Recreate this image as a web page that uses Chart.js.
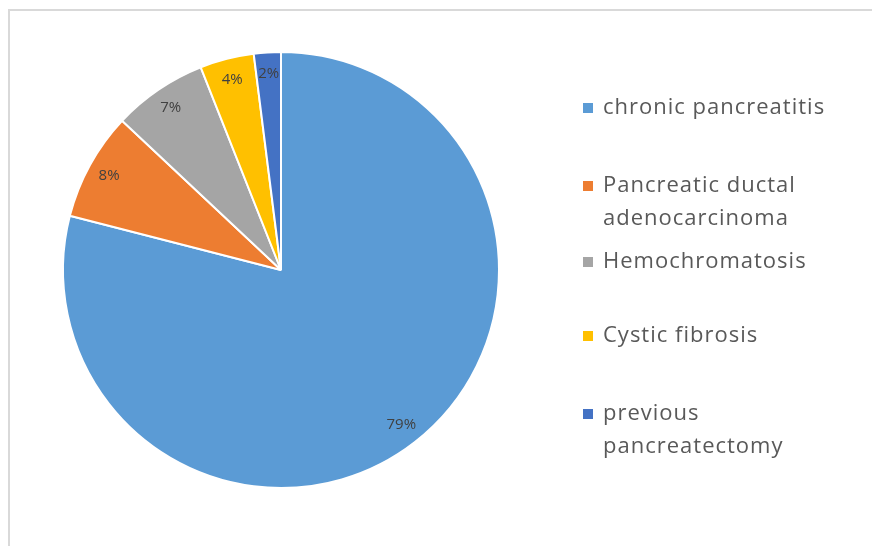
<!DOCTYPE html>
<html>
<head>
<meta charset="utf-8">
<script src="https://cdn.jsdelivr.net/npm/chart.js@4.4.1/dist/chart.umd.min.js"></script>
<style>
  html, body { margin: 0; padding: 0; background: #fff; }
  #wrap { position: relative; width: 872px; height: 546px; overflow: hidden; }
  #frame { position: absolute; left: 8px; top: 9px; width: 900px; height: 600px;
           border-left: 2px solid #d9d9d9; border-top: 2px solid #d9d9d9; }
  canvas { position: absolute; left: 0; top: 0; }
</style>
</head>
<body>
<div id="wrap">
  <div id="frame"></div>
  <canvas id="chart" width="872" height="546"></canvas>
</div>
<script>
// data
const categories = [
  'chronic pancreatitis',
  ['Pancreatic ductal', 'adenocarcinoma'],
  'Hemochromatosis',
  'Cystic fibrosis',
  ['previous', 'pancreatectomy']
];
const shares = [79, 8, 7, 4, 2];
const sliceColors = ['#5B9BD5', '#ED7D31', '#A5A5A5', '#FFC000', '#4472C4'];

// legend rows (y of first line), drawn by hand like the excel legend
const legendRows = [108, 186, 262, 336, 414];

const sliceLabels = {
  id: 'sliceLabels',
  afterDatasetsDraw(chart) {
    const ctx = chart.ctx;
    const meta = chart.getDatasetMeta(0);
    ctx.save();
    ctx.font = '15px "Open Sans"';
    ctx.fillStyle = '#404040';
    ctx.textAlign = 'center';
    ctx.textBaseline = 'middle';
    meta.data.forEach((arc, i) => {
      const p = arc.getProps(['x', 'y', 'startAngle', 'endAngle', 'outerRadius']);
      const mid = (p.startAngle + p.endAngle) / 2;
      const r = p.outerRadius * 0.9;
      ctx.fillText(shares[i] + '%', p.x + Math.cos(mid) * r, p.y + Math.sin(mid) * r);
    });
    ctx.restore();
  }
};

const sideLegend = {
  id: 'sideLegend',
  afterDraw(chart) {
    const ctx = chart.ctx;
    ctx.save();
    ctx.font = '22px "Open Sans"';
    ctx.letterSpacing = '1px';
    ctx.textBaseline = 'middle';
    categories.forEach((label, i) => {
      const y = legendRows[i];
      ctx.fillStyle = sliceColors[i];
      ctx.fillRect(583, y - 5, 10, 10);
      ctx.fillStyle = '#595959';
      const lines = Array.isArray(label) ? label : [label];
      lines.forEach((line, j) => ctx.fillText(line, 603, y + j * 33));
    });
    ctx.restore();
  }
};

new Chart(document.getElementById('chart'), {
  type: 'pie',
  data: {
    labels: categories,
    datasets: [{
      data: shares,
      backgroundColor: sliceColors,
      borderColor: '#ffffff',
      borderWidth: 2
    }]
  },
  options: {
    responsive: false,
    animation: false,
    layout: { padding: { left: 62, top: 51, right: 372, bottom: 57 } },
    plugins: {
      legend: { display: false },
      tooltip: { enabled: false }
    }
  },
  plugins: [sliceLabels, sideLegend]
});
</script>
</body>
</html>
